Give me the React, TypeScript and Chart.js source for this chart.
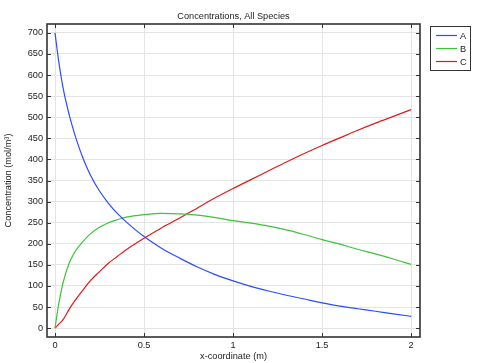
import React, { useEffect, useRef } from "react";
import { Chart, registerables } from "chart.js";

Chart.register(...registerables);

const xCoords = [0, 0.02, 0.045, 0.08, 0.1, 0.12, 0.16, 0.2, 0.25, 0.3, 0.35, 0.4, 0.5, 0.6, 0.7, 0.8, 0.9, 1.0, 1.1, 1.2, 1.3, 1.4, 1.5, 1.6, 1.7, 1.8, 1.9, 2.0];
const seriesA = [700, 635, 570, 505, 475, 447, 400, 362, 325, 296, 272, 252, 217, 189, 166, 145, 127, 112, 99, 88, 78, 69, 60, 52, 46, 40, 34, 28];
const seriesB = [0, 55, 107, 155, 172, 186, 207, 224, 239, 250, 257, 263, 269, 272, 271, 268, 262, 255, 249, 242, 233, 222, 210, 199, 187, 176, 164, 151];
const seriesC = [0, 9, 20, 45, 58, 70, 92, 113, 134, 154, 170, 186, 213, 238, 261, 285, 309, 331, 352, 373, 394, 414, 433, 451, 469, 486, 502, 518];
const seriesNames = ["A", "B", "C"];
const seriesColors = ["#2a4dff", "#3cc43c", "#e01a1a"];
const xTicks = [0, 0.5, 1, 1.5, 2];
const yTicks = [0, 50, 100, 150, 200, 250, 300, 350, 400, 450, 500, 550, 600, 650, 700];
const chartTitle = "Concentrations, All Species";
const xTitle = "x-coordinate (m)";
const yTitle = "Concentration (mol/m³)";

const FONT = "Liberation Sans";
const FS = 9.2;

const framePlugin = {
  id: "frame",
  afterDraw(chart: any) {
    const { ctx, chartArea } = chart;
    const { left, right, top, bottom } = chartArea;
    const xs = chart.scales.x;
    const ys = chart.scales.y;
    ctx.save();
    ctx.strokeStyle = "#333";
    ctx.lineWidth = 1;
    const tl = 4;
    ctx.beginPath();
    xTicks.forEach((v) => {
      const px = Math.round(xs.getPixelForValue(v)) + 0.5;
      ctx.moveTo(px, bottom);
      ctx.lineTo(px, bottom - tl);
      ctx.moveTo(px, top);
      ctx.lineTo(px, top + tl);
    });
    yTicks.forEach((v) => {
      const py = Math.round(ys.getPixelForValue(v)) + 0.5;
      ctx.moveTo(left, py);
      ctx.lineTo(left + tl, py);
      ctx.moveTo(right, py);
      ctx.lineTo(right - tl, py);
    });
    ctx.stroke();
    ctx.lineWidth = 1.6;
    ctx.strokeRect(left, top, right - left, bottom - top);

    // title
    ctx.fillStyle = "#222";
    ctx.font = `${FS}px '${FONT}'`;
    ctx.textAlign = "center";
    ctx.textBaseline = "middle";
    ctx.fillText(chartTitle, (left + right) / 2, 16);

    // legend
    const bx = 430, by = 26, bw = 40, bh = 44;
    ctx.fillStyle = "#fff";
    ctx.fillRect(bx, by, bw, bh);
    ctx.lineWidth = 1;
    ctx.strokeStyle = "#333";
    ctx.strokeRect(bx + 0.5, by + 0.5, bw, bh);
    ctx.textAlign = "left";
    chart.data.datasets.forEach((ds: any, i: number) => {
      const y = by + 9 + i * 13 + 0.5;
      ctx.strokeStyle = ds.borderColor;
      ctx.lineWidth = 1.2;
      ctx.beginPath();
      ctx.moveTo(bx + 6, y);
      ctx.lineTo(bx + 27, y);
      ctx.stroke();
      ctx.fillStyle = "#222";
      ctx.fillText(ds.label, bx + 30, y + 0.5);
    });
    ctx.restore();
  },
};

export default function App() {
  const ref = useRef<HTMLCanvasElement>(null);
  useEffect(() => {
    if (!ref.current) return;
    const all = [seriesA, seriesB, seriesC];
    const chart = new Chart(ref.current, {
      type: "line",
      data: {
        datasets: all.map((s, i) => ({
          label: seriesNames[i],
          data: xCoords.map((x, j) => ({ x, y: s[j] })),
          borderColor: seriesColors[i],
          backgroundColor: seriesColors[i],
          borderWidth: 1.2,
          pointRadius: 0,
          cubicInterpolationMode: "monotone",
          fill: false,
        })),
      },
      options: {
        animation: false,
        responsive: false,
        layout: { padding: { top: 24, right: 60, left: 0, bottom: 0 } },
        plugins: { legend: { display: false }, title: { display: false }, tooltip: { enabled: false } },
        scales: {
          x: {
            type: "linear",
            min: -0.045,
            max: 2.05,
            afterBuildTicks: (s: any) => {
              s.ticks = xTicks.map((v) => ({ value: v }));
            },
            afterFit: (s: any) => {
              s.height = 26;
            },
            grid: { color: "#e4e4e4", drawTicks: false, lineWidth: 1 },
            border: { display: false },
            ticks: { color: "#222", font: { family: FONT, size: FS }, padding: 3, maxRotation: 0, callback: (v: any) => String(v) },
            title: { display: true, text: xTitle, color: "#222", font: { family: FONT, size: FS }, padding: { top: 0, bottom: 1 } },
          },
          y: {
            type: "linear",
            min: -21,
            max: 721,
            afterBuildTicks: (s: any) => {
              s.ticks = yTicks.map((v) => ({ value: v }));
            },
            afterFit: (s: any) => {
              s.width = 47;
            },
            grid: { color: "#e4e4e4", drawTicks: false, lineWidth: 1 },
            border: { display: false },
            ticks: { color: "#222", font: { family: FONT, size: FS }, padding: 4 },
            title: { display: true, text: yTitle, color: "#222", font: { family: FONT, size: FS }, padding: { top: 3, bottom: 0 } },
          },
        },
      },
      plugins: [framePlugin],
    } as any);
    return () => chart.destroy();
  }, []);
  return (
    <div style={{ position: "fixed", left: 0, top: 0, width: 480, height: 363, background: "#fff" }}>
      <canvas ref={ref} width={480} height={363} style={{ width: 480, height: 363, display: "block" }} />
    </div>
  );
}
